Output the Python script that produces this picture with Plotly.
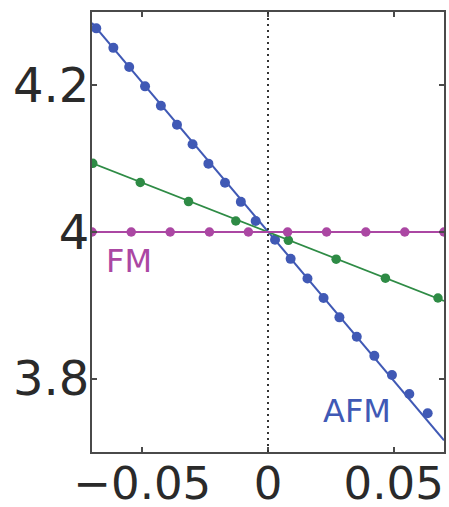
import plotly.graph_objects as go

# FM branch: flat at 4
fm_x = [-0.07, -0.0544, -0.0389, -0.0233, -0.0078, 0.0078, 0.0233, 0.0389, 0.0544, 0.07]
fm_y = [4.0, 4.0, 4.0, 4.0, 4.0, 4.0, 4.0, 4.0, 4.0, 4.0]

# intermediate (green) branch
mid_x = [-0.0697, -0.0508, -0.0316, -0.0128, 0.0081, 0.0271, 0.0467, 0.0676]
mid_y = [4.0936, 4.0675, 4.0415, 4.0150, 3.9886, 3.9630, 3.9370, 3.9100]
mid_fit_x = [-0.07, 0.07]
mid_fit_y = [4.094, 3.906]

# AFM branch
afm_x = [-0.0683, -0.0615, -0.0552, -0.0489, -0.0426, -0.0362, -0.0300, -0.0237,
         -0.0171, -0.0108, -0.0049, 0.0028, 0.0090, 0.0157, 0.0221, 0.0284,
         0.0353, 0.0423, 0.0493, 0.0562, 0.0635]
afm_y = [4.2777, 4.2511, 4.2251, 4.1986, 4.1722, 4.1462, 4.1196, 4.0932,
         4.0671, 4.0411, 4.0151, 3.9895, 3.9634, 3.9366, 3.9100, 3.8836,
         3.8571, 3.8311, 3.8051, 3.7790, 3.7529]
afm_fit_x = [-0.07, 0.07]
afm_fit_y = [4.285, 3.716]

x_ticks = [-0.05, 0, 0.05]
x_tick_text = ["\u22120.05", "0", "0.05"]
y_ticks = [3.8, 4.0, 4.2]
y_tick_text = ["3.8", "4", "4.2"]

BLUE = "#4059b5"
GREEN = "#2e8b45"
MAGENTA = "#ab47a3"
FRAME = "#4a4a4a"
FONT = "DejaVu Sans"

fig = go.Figure()

fig.add_trace(go.Scatter(x=afm_fit_x, y=afm_fit_y, mode="lines",
                         line=dict(color=BLUE, width=2), hoverinfo="skip"))
fig.add_trace(go.Scatter(x=afm_x, y=afm_y, mode="markers",
                         marker=dict(color=BLUE, size=10)))
fig.add_trace(go.Scatter(x=mid_fit_x, y=mid_fit_y, mode="lines",
                         line=dict(color=GREEN, width=1.6), hoverinfo="skip"))
fig.add_trace(go.Scatter(x=mid_x, y=mid_y, mode="markers",
                         marker=dict(color=GREEN, size=9.5)))
fig.add_trace(go.Scatter(x=fm_x, y=fm_y, mode="lines+markers",
                         line=dict(color=MAGENTA, width=1.8),
                         marker=dict(color=MAGENTA, size=9.5)))

# dotted guide at zero strain
fig.add_shape(type="line", xref="x", yref="paper", x0=0, x1=0, y0=0, y1=1,
              line=dict(color="#333333", width=2, dash="2px,4px"), layer="above")

fig.add_annotation(x=-0.0553, y=3.960, text="FM", showarrow=False,
                   font=dict(family=FONT, size=32, color=MAGENTA))
fig.add_annotation(x=0.0353, y=3.756, text="AFM", showarrow=False,
                   font=dict(family=FONT, size=32, color=BLUE))

axis_common = dict(
    showline=True, mirror="ticks", linecolor=FRAME, linewidth=2,
    ticks="inside", ticklen=5, tickwidth=1.5, tickcolor=FRAME,
    showgrid=False, zeroline=False, automargin=False,
)

fig.update_xaxes(range=[-0.07, 0.07], tickvals=x_ticks, ticktext=x_tick_text,
                 ticklabelstandoff=-9,
                 tickfont=dict(family=FONT, size=45, color="#2a2a2a"),
                 **axis_common)
fig.update_yaxes(range=[3.7, 4.3], tickvals=y_ticks, ticktext=y_tick_text,
                 ticklabelstandoff=-9,
                 tickfont=dict(family=FONT, size=48, color="#2a2a2a"),
                 **axis_common)

fig.update_layout(
    width=449, height=507,
    margin=dict(l=92, r=5, t=12, b=55),
    paper_bgcolor="white", plot_bgcolor="white",
    showlegend=False,
)

fig.write_html("out.html")
